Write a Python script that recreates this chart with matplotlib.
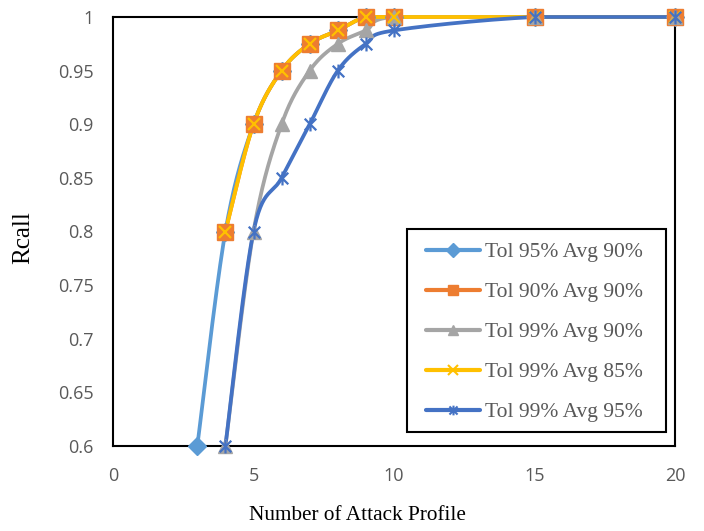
import numpy as np
import matplotlib
matplotlib.use("Agg")
import matplotlib.pyplot as plt
from matplotlib.path import Path
from matplotlib.lines import Line2D
from matplotlib.patches import Rectangle

x_vals = [3, 4, 5, 6, 7, 8, 9, 10, 15, 20]
x_vals2 = [4, 5, 6, 7, 8, 9, 10, 15, 20]
tol95_avg90 = [0.6, 0.8, 0.9, 0.95, 0.975, 0.9875, 1.0, 1.0, 1.0, 1.0]
tol90_avg90 = [0.8, 0.9, 0.95, 0.975, 0.9875, 1.0, 1.0, 1.0, 1.0]
tol99_avg90 = [0.6, 0.8, 0.9, 0.95, 0.975, 0.9875, 1.0, 1.0, 1.0]
tol99_avg85 = [0.8, 0.9, 0.95, 0.975, 0.9875, 1.0, 1.0, 1.0, 1.0]
tol99_avg95 = [0.6, 0.8, 0.85, 0.9, 0.95, 0.975, 0.9875, 1.0, 1.0]
labels = ["Tol 95% Avg 90%", "Tol 90% Avg 90%", "Tol 99% Avg 90%",
          "Tol 99% Avg 85%", "Tol 99% Avg 95%"]
yticks = [0.6, 0.65, 0.7, 0.75, 0.8, 0.85, 0.9, 0.95, 1.0]
ytick_labels = ["0.6", "0.65", "0.7", "0.75", "0.8", "0.85", "0.9", "0.95", "1"]
xticks = [0, 5, 10, 15, 20]
xtick_labels = ["0", "5", "10", "15", "20"]

colors = ["#5B9BD5", "#ED7D31", "#A5A5A5", "#FFC000", "#4472C4"]

star = Path([(-1, -1), (1, 1), (-1, 1), (1, -1), (0, -1.2), (0, 1.2)],
            [Path.MOVETO, Path.LINETO, Path.MOVETO, Path.LINETO, Path.MOVETO, Path.LINETO])

series = [
    (x_vals, tol95_avg90, "D", 9),
    (x_vals2, tol90_avg90, "s", 12),
    (x_vals2, tol99_avg90, "^", 10),
    (x_vals2, tol99_avg85, "x", 9),
    (x_vals2, tol99_avg95, star, 10),
]

W, H = 704, 531
fig = plt.figure(figsize=(W / 100, H / 100), dpi=100)
L, R, T, B = 113, 675, 17, 446
ax = fig.add_axes([L / W, 1 - B / H, (R - L) / W, (B - T) / H])
ax.set_xlim(0, 20)
ax.set_ylim(0.6, 1.0)

sx = (R - L) / 20.0
sy = (B - T) / 0.4


def smooth(xs, ys, n=30):
    px = np.array(xs, float) * sx
    py = np.array(ys, float) * sy
    pts = np.column_stack([px, py])
    out = []
    m = len(pts)
    for i in range(m - 1):
        p0 = pts[i - 1] if i > 0 else pts[i]
        p1 = pts[i]
        p2 = pts[i + 1]
        p3 = pts[i + 2] if i + 2 < m else pts[i + 1]
        c1 = p1 + (p2 - p0) / 6.0
        c2 = p2 - (p3 - p1) / 6.0
        lo, hi = min(p1[1], p2[1]), max(p1[1], p2[1])
        c1[1] = np.clip(c1[1], lo, hi)
        c2[1] = np.clip(c2[1], lo, hi)
        t = np.linspace(0, 1, n)[:, None]
        seg = ((1 - t) ** 3) * p1 + 3 * ((1 - t) ** 2) * t * c1 + 3 * (1 - t) * t ** 2 * c2 + t ** 3 * p2
        if i > 0:
            seg = seg[1:]
        out.append(seg)
    out = np.vstack(out)
    return out[:, 0] / sx, out[:, 1] / sy


handles = []
for (xs, ys, mk, ms), c, lab in zip(series, colors, labels):
    cx, cy = smooth(xs, ys)
    ax.plot(cx, cy, color=c, lw=2.7, solid_capstyle="round", clip_on=False, zorder=3)
    hollow = (mk is star) or (mk == "x")
    if hollow:
        ax.plot(xs, ys, ls="none", marker=mk, ms=ms, mec=c, mfc="none", mew=1.6,
                clip_on=False, zorder=4)
        h = Line2D([], [], color=c, lw=3.0, solid_capstyle="round", marker=mk, ms=7,
                   mec=c, mfc="none", mew=1.5)
    else:
        ax.plot(xs, ys, ls="none", marker=mk, ms=ms, mec=c, mfc=c, clip_on=False, zorder=4)
        h = Line2D([], [], color=c, lw=3.0, solid_capstyle="round", marker=mk,
                   ms=7, mec=c, mfc=c)
    handles.append(h)

for s in ax.spines.values():
    s.set_color("black")
    s.set_linewidth(1.5)
ax.set_xticks(xticks)
ax.set_yticks(yticks)
ax.set_yticklabels(ytick_labels)
ax.set_xticklabels(xtick_labels)
ax.tick_params(length=0, labelcolor="#595959", labelsize=13)
ax.tick_params(axis="y", pad=14)
ax.tick_params(axis="x", pad=15)
for lab in ax.get_xticklabels() + ax.get_yticklabels():
    lab.set_fontfamily("Open Sans")

fig.text(23.5 / W, 1 - 238 / H, "Rcall", rotation=90, ha="center", va="center",
         fontfamily="Liberation Serif", fontsize=18, color="black")
fig.text(357 / W, 1 - 515 / H, "Number of Attack Profile", ha="center", va="center",
         fontfamily="Liberation Serif", fontsize=15.3, color="black")

# legend box (frame drawn separately)
bx0 = (407 - L) / (R - L)
by0 = 1 - (432 - T) / (B - T)
bw = (666 - 407) / (R - L)
bh = (432 - 229) / (B - T)
ax.add_patch(Rectangle((bx0, by0), bw, bh, transform=ax.transAxes, facecolor="white",
                       edgecolor="black", lw=1.5, zorder=5, clip_on=False))
leg = ax.legend(handles=handles, labels=labels, loc="center",
                bbox_to_anchor=(bx0 + bw / 2 - 0.003, by0 + bh / 2 - 0.004),
                prop={"family": "Liberation Serif", "size": 15.5},
                frameon=False, handlelength=2.5,
                labelspacing=0.93, borderpad=0.0, handletextpad=0.25, borderaxespad=0)
leg.set_zorder(6)
for t in leg.get_texts():
    t.set_color("#595959")

fig.savefig("out.png", dpi=100)
